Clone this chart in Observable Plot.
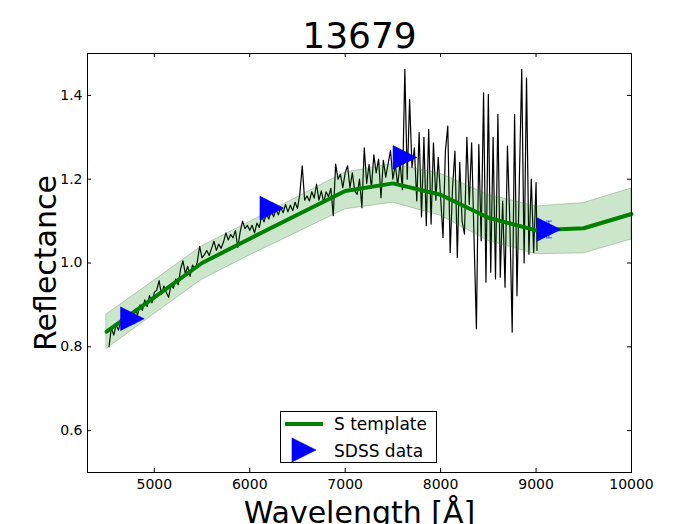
<!DOCTYPE html>
<html><head><meta charset="utf-8">
<script src="https://cdn.jsdelivr.net/npm/d3@7"></script>
<script src="https://cdn.jsdelivr.net/npm/@observablehq/plot@0.6"></script>
<style>
body{margin:0;background:#fff;}
#wrap{position:relative;width:700px;height:524px;overflow:hidden;font-family:"DejaVu Sans";}
#legend{position:absolute;left:280px;top:411px;width:157px;height:52px;border:1px solid #000;background:#fff;box-sizing:border-box;}
#legend svg{position:absolute;left:0;top:0;}
</style></head><body>
<div id="wrap"></div>
<script>
// ---- data ----
const title = "13679";
const xLabel = "Wavelength [Å]";
const yLabel = "Reflectance";
const xTicks = [5000, 6000, 7000, 8000, 9000, 10000];
const yTicks = [0.6, 0.8, 1.0, 1.2, 1.4];
const legendNames = ["S template", "SDSS data"];

// S template (wavelength in Å, reflectance, 1-sigma)
const templateWl  = [4500, 5000, 5500, 6000, 6500, 7000, 7500, 8000, 8500, 9000, 9500, 10000];
const templateR   = [0.836, 0.918, 1.000, 1.058, 1.115, 1.172, 1.190, 1.163, 1.108, 1.078, 1.083, 1.117];
const templateErr = [0.041, 0.040, 0.040, 0.040, 0.042, 0.044, 0.046, 0.050, 0.055, 0.057, 0.060, 0.061];

// SDSS photometry (g, r, i, z)
const sdssWl  = [4770, 6231, 7625, 9134];
const sdssR   = [0.867, 1.131, 1.252, 1.080];
const sdssErr = [0.012, 0.006, 0.006, 0.020];

// spectrum
const specWl = [4525,4550,4575,4600,4625,4650,4675,4700,4725,4750,4775,4800,4825,4850,4875,4900,4925,4950,4975,5000,
5025,5050,5075,5100,5125,5150,5175,5200,5225,5250,5275,5300,5325,5350,5375,5400,5425,5450,5475,5500,
5525,5550,5575,5600,5625,5650,5675,5700,5725,5750,5775,5800,5825,5850,5875,5900,5925,5950,5975,6000,
6025,6050,6075,6100,6125,6150,6175,6200,6225,6250,6275,6300,6325,6350,6375,6400,6425,6450,6475,6500,
6525,6550,6575,6600,6625,6650,6675,6700,6725,6750,6775,6800,6825,6850,6875,6900,6925,6950,6975,7000,
7025,7050,7075,7100,7125,7150,7175,7200,7225,7250,7275,7300,7325,7350,7375,7400,7425,7450,7475,7500,
7525,7550,7575,7600,7625,7650,7675,7700,7725,7750,7775,7800,7825,7850,7875,7900,7925,7950,7975,8000,
8025,8050,8075,8100,8125,8150,8175,8200,8225,8250,8275,8300,8325,8350,8375,8400,8425,8450,8475,8500,
8525,8550,8575,8600,8625,8650,8675,8700,8725,8750,8775,8800,8825,8850,8875,8900,8925,8950,8975,9000,9010];
const specR = [0.800,0.845,0.828,0.852,0.840,0.866,0.852,0.873,0.858,0.880,0.868,0.890,0.876,0.900,0.887,0.912,0.896,0.922,0.905,0.930,
0.935,0.958,0.925,0.945,0.930,0.918,0.948,0.940,0.962,0.948,0.985,1.005,0.975,0.992,0.968,0.995,0.985,1.002,1.040,1.012,
1.020,1.030,1.018,1.035,1.052,1.030,1.045,1.035,1.050,1.072,1.055,1.068,1.060,1.078,1.037,1.075,1.100,1.082,1.090,1.078,
1.090,1.072,1.095,1.085,1.112,1.098,1.118,1.105,1.125,1.110,1.128,1.115,1.132,1.120,1.140,1.122,1.138,1.125,1.145,1.130,
1.165,1.232,1.150,1.160,1.148,1.170,1.155,1.188,1.150,1.172,1.145,1.170,1.158,1.178,1.113,1.236,1.200,1.212,1.180,1.215,
1.232,1.180,1.215,1.172,1.164,1.200,1.132,1.275,1.190,1.235,1.178,1.258,1.215,1.248,1.156,1.245,1.205,1.238,1.268,1.200,
1.235,1.185,1.240,1.175,1.462,1.200,1.390,1.228,1.275,1.148,1.311,1.110,1.300,1.089,1.319,1.093,1.287,1.150,1.252,1.156,
1.061,1.267,1.327,1.025,1.180,1.267,1.013,1.240,1.100,1.069,1.300,1.140,1.287,1.060,0.843,1.283,1.053,1.406,0.954,1.402,
0.978,1.300,0.962,1.355,0.966,1.148,0.942,1.279,1.100,0.835,1.355,0.922,1.200,1.462,1.000,1.442,1.021,1.200,1.025,1.192,1.030];

// ---- tables ----
const spec = specWl.map((w, i) => ({w, r: specR[i]}));
const tmpl = templateWl.map((w, i) => ({w, r: templateR[i], lo: templateR[i] - templateErr[i], hi: templateR[i] + templateErr[i]}));
const sdss = sdssWl.map((w, i) => ({w, r: sdssR[i], lo: sdssR[i] - sdssErr[i], hi: sdssR[i] + sdssErr[i]}));

const triRight = {draw(ctx, size) { const r = Math.sqrt(size / Math.PI); ctx.moveTo(r, 0); ctx.lineTo(-r, -r); ctx.lineTo(-r, r); ctx.closePath(); }};
const hCap = {draw(ctx, size) { const r = Math.sqrt(size / Math.PI); ctx.moveTo(-r, 0); ctx.lineTo(r, 0); }};

const FW = 700 - 87 - 69, FH = 524 - 53 - 52;
const chart = Plot.plot({
  width: 700, height: 524,
  marginLeft: 87, marginRight: 69, marginTop: 53, marginBottom: 52,
  style: {fontFamily: "DejaVu Sans", fontSize: "14px", color: "black", background: "white", overflow: "visible"},
  x: {domain: [4300, 10000]},
  y: {domain: [0.5, 1.5]},
  marks: [
    Plot.lineY(spec, {x: "w", y: "r", stroke: "black", strokeWidth: 1.2}),
    Plot.lineY(tmpl, {x: "w", y: "r", stroke: "#008000", strokeWidth: 4}),
    Plot.areaY(tmpl, {x: "w", y1: "lo", y2: "hi", fill: "green", fillOpacity: 0.2, stroke: "#4a7a4a", strokeOpacity: 0.35, strokeWidth: 1}),
    Plot.ruleX(sdss, {x: "w", y1: "lo", y2: "hi", stroke: "#3344ff", strokeWidth: 1}),
    Plot.dot(sdss, {x: "w", y: "lo", symbol: hCap, r: 3, stroke: "#3344ff", strokeWidth: 1}),
    Plot.dot(sdss, {x: "w", y: "hi", symbol: hCap, r: 3, stroke: "#3344ff", strokeWidth: 1}),
    Plot.dot(sdss, {x: "w", y: "r", symbol: triRight, r: 11.8, fill: "#0000ff", stroke: "#0000cc", strokeWidth: 0.6}),
    Plot.frame({stroke: "black", strokeWidth: 1}),
    Plot.tickX(xTicks, {x: d => d, insetTop: FH - 4, stroke: "black"}),
    Plot.tickX(xTicks, {x: d => d, insetBottom: FH - 4, stroke: "black"}),
    Plot.tickY(yTicks, {y: d => d, insetRight: FW - 4, stroke: "black"}),
    Plot.tickY(yTicks, {y: d => d, insetLeft: FW - 4, stroke: "black"}),
    Plot.axisX(xTicks, {tickSize: 0, tickPadding: 7, tickFormat: d => String(d), label: null, fontSize: 14}),
    Plot.axisY(yTicks, {tickSize: 0, tickPadding: 5, tickFormat: d3.format(".1f"), label: null, fontSize: 14}),
    Plot.text([title], {text: d => d, frameAnchor: "top", lineAnchor: "bottom", dy: -6, fontSize: 36, fill: "black"}),
    Plot.text([yLabel], {text: d => d, frameAnchor: "left", textAnchor: "middle", rotate: -90, lineAnchor: "bottom", dx: -32, fontSize: 30, fill: "black"}),
    Plot.text([xLabel], {text: d => d, frameAnchor: "bottom", textAnchor: "middle", lineAnchor: "bottom", dy: 50, fontSize: 30, fill: "black"})
  ]
});
const wrap = document.getElementById("wrap");
wrap.appendChild(chart);

// legend
const leg = document.createElement("div");
leg.id = "legend";
leg.innerHTML = `<svg width="157" height="52" font-family="DejaVu Sans" font-size="17">
  <line x1="4" x2="42" y1="12" y2="12" stroke="#008000" stroke-width="4"/>
  <text x="53" y="18" fill="black">${legendNames[0]}</text>
  <path d="M35,38 L11,26 L11,50 Z" fill="#0000ff" stroke="#0000cc" stroke-width="0.6"/>
  <text x="53" y="45" fill="black">${legendNames[1]}</text>
</svg>`;
wrap.appendChild(leg);
</script>
</body></html>
